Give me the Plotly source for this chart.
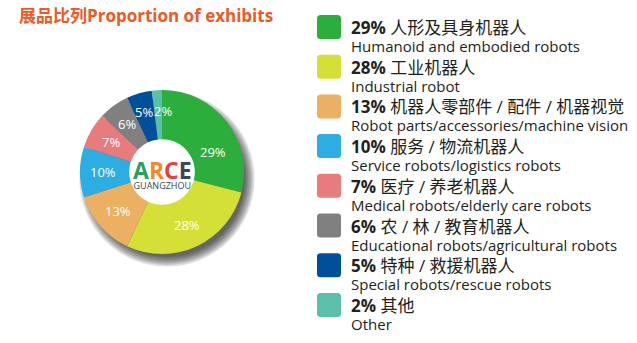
import math
import plotly.graph_objects as go

# Exhibit categories and their share (%)
cn_labels = ["人形及具身机器人", "工业机器人", "机器人零部件 / 配件 / 机器视觉", "服务 / 物流机器人",
             "医疗 / 养老机器人", "农 / 林 / 教育机器人", "特种 / 救援机器人", "其他"]
en_labels = ["Humanoid and embodied robots", "Industrial robot", "Robot parts/accessories/machine vision",
             "Service robots/logistics robots", "Medical robots/elderly care robots",
             "Educational robots/agricultural robots", "Special robots/rescue robots", "Other"]
shares = [29, 28, 13, 10, 7, 6, 5, 2]
colors = ["#2bae3c", "#d5e036", "#ebb061", "#2caee2", "#e87c7c", "#808080", "#004f9b", "#5bbfa9"]

title_text = "展品比列Proportion of exhibits"

W, H = 637, 343
FONT = "Open Sans, Noto Sans CJK SC, sans-serif"
TEXT_COLOR = "#231f20"


def px(x):
    return x / W


def py(y):
    return 1 - y / H


# donut geometry (pixels)
cx, cy, R = 162, 172, 82
hole = 0.40

fig = go.Figure()
fig.add_trace(go.Pie(
    values=shares,
    labels=en_labels,
    marker=dict(colors=colors, line=dict(width=0)),
    hole=hole,
    sort=False,
    direction="clockwise",
    rotation=0,
    textinfo="none",
    hoverinfo="label+percent",
    showlegend=False,
    domain=dict(x=[px(cx - R), px(cx + R)], y=[py(cy + R), py(cy - R)]),
))

shapes = []
# soft drop shadow behind the donut
for i in range(7):
    r = R - 4 + i * 1.6
    ox, oy = 5, 7
    shapes.append(dict(type="circle", xref="paper", yref="paper", layer="below",
                       x0=px(cx + ox - r), x1=px(cx + ox + r),
                       y0=py(cy + oy + r), y1=py(cy + oy - r),
                       fillcolor="rgba(0,0,0,0.12)", line=dict(width=0)))
# white disc filling the donut hole
rh = R * hole + 1
shapes.append(dict(type="circle", xref="paper", yref="paper", layer="below",
                   x0=px(cx - rh), x1=px(cx + rh), y0=py(cy + rh), y1=py(cy - rh),
                   fillcolor="white", line=dict(width=0)))

annotations = []
# percentage labels on the slices, placed at each slice's mid-angle
total = sum(shares)
label_nudge = {0: (4, 16), 6: (-2, -3), 7: (5, -2)}
cum = 0
for i, v in enumerate(shares):
    mid = (cum + v / 2) / total * 2 * math.pi
    cum += v
    r = 59
    lx = cx + r * math.sin(mid)
    ly = cy - r * math.cos(mid)
    dx, dy = label_nudge.get(i, (0, 0))
    annotations.append(dict(x=px(lx + dx), y=py(ly + dy), xref="paper", yref="paper",
                            text=f"{v}%", showarrow=False, xanchor="center", yanchor="middle",
                            font=dict(family=FONT, size=13, color="white")))

# centre logo (two lines in one text block)
annotations.append(dict(
    x=px(cx), y=py(cy + 1), xref="paper", yref="paper", showarrow=False,
    xanchor="center", yanchor="middle", align="center",
    text=("<b><span style='font-size:23px'><span style='color:#2a9f62'>A</span>"
          "<span style='color:#f08a2a'>R</span><span style='color:#e8413c'>C</span>"
          "<span style='color:#3b4657'>E</span></span></b><br>"
          "<span style='font-size:9px'>GUANGZHOU</span>"),
    font=dict(family="Open Sans, sans-serif", size=7.5, color="#3b4657")))

# title
annotations.append(dict(
    x=px(17), y=py(15), xref="paper", yref="paper", showarrow=False,
    xanchor="left", yanchor="middle", text=f"<b>{title_text}</b>",
    font=dict(family=FONT, size=17, color="#ee5a24")))

# legend: rounded swatches with bilingual labels
sq_x0, sq_size, rad = 317, 24, 3.5
row_top0, row_step = 15, 39.7
for i, (v, cn, en, col) in enumerate(zip(shares, cn_labels, en_labels, colors)):
    top = row_top0 + i * row_step
    x0, x1 = sq_x0, sq_x0 + sq_size
    y0, y1 = top, top + sq_size
    path = (f"M {px(x0 + rad)},{py(y0)} L {px(x1 - rad)},{py(y0)} "
            f"Q {px(x1)},{py(y0)} {px(x1)},{py(y0 + rad)} "
            f"L {px(x1)},{py(y1 - rad)} Q {px(x1)},{py(y1)} {px(x1 - rad)},{py(y1)} "
            f"L {px(x0 + rad)},{py(y1)} Q {px(x0)},{py(y1)} {px(x0)},{py(y1 - rad)} "
            f"L {px(x0)},{py(y0 + rad)} Q {px(x0)},{py(y0)} {px(x0 + rad)},{py(y0)} Z")
    shapes.append(dict(type="path", xref="paper", yref="paper", path=path,
                       fillcolor=col, line=dict(width=0)))
    annotations.append(dict(
        x=px(349), y=py(top + 21), xref="paper", yref="paper", showarrow=False,
        xanchor="left", yanchor="middle", align="left",
        text=(f"<span style='font-size:17px'><b>{v}%</b> {cn}</span><br>"
              f"<span style='font-size:15px'>{en}</span>"),
        font=dict(family=FONT, size=14, color=TEXT_COLOR)))

fig.update_layout(
    width=W, height=H,
    margin=dict(l=0, r=0, t=0, b=0),
    paper_bgcolor="white", plot_bgcolor="white",
    shapes=shapes, annotations=annotations,
    showlegend=False,
)

fig.write_html("out.html")
